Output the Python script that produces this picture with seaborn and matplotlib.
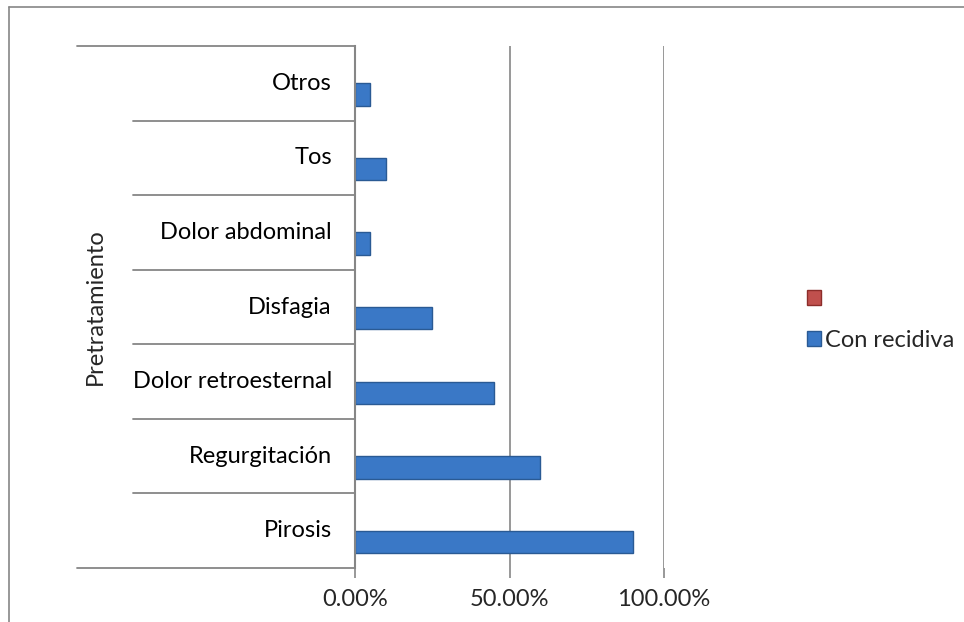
import matplotlib
matplotlib.use('Agg')
import matplotlib.pyplot as plt
from matplotlib.lines import Line2D
from matplotlib.ticker import PercentFormatter
import pandas as pd
import seaborn as sns

# categories from top to bottom, as in the reference
sintomas = ['Otros', 'Tos', 'Dolor abdominal', 'Disfagia',
            'Dolor retroesternal', 'Regurgitación', 'Pirosis']
con_recidiva = [0.05, 0.10, 0.05, 0.25, 0.45, 0.60, 0.90]
sin_nombre = [0, 0, 0, 0, 0, 0, 0]   # second, unnamed series (red in legend)
series = [' ', 'Con recidiva']
colores = ['#C0504D', '#3A78C6']
bordes = ['#8C2D2A', '#2A5A94']
x_ticks = [0, 0.5, 1.0]


def build_frame() -> pd.DataFrame:
    rows = []
    for s, v0, v1 in zip(sintomas, sin_nombre, con_recidiva):
        rows.append({'sintoma': s, 'serie': series[0], 'valor': v0})
        rows.append({'sintoma': s, 'serie': series[1], 'valor': v1})
    return pd.DataFrame(rows)


sns.set_style('white')
plt.rcParams['font.family'] = ['Lato', 'DejaVu Sans']
FS = 17

fig = plt.figure(figsize=(9.64, 6.22), dpi=100)
ax = fig.add_axes([355 / 964, 54 / 622, 309 / 964, 522 / 622])

df = build_frame()
sns.barplot(data=df, x='valor', y='sintoma', hue='serie', order=sintomas,
            hue_order=series, palette=colores, width=0.6, ax=ax,
            saturation=1, linewidth=1.0)
for cont, ec in zip(ax.containers, bordes):
    for bar in cont:
        bar.set_edgecolor(ec)
        if bar.get_width() == 0:
            bar.set_linewidth(0)

ax.set_xlim(0, 1)
ax.set_ylim(6.5, -0.5)
ax.set_xticks(x_ticks)
ax.xaxis.set_major_formatter(PercentFormatter(1.0, decimals=2))
ax.tick_params(axis='x', labelsize=FS, length=7, width=1.2, color='#868686',
               pad=8, direction='out', bottom=True)
ax.grid(axis='x', color='#868686', linewidth=1.2)
ax.set_axisbelow(True)
for name in ['top', 'right', 'bottom']:
    ax.spines[name].set_visible(False)
ax.spines['left'].set_color('#868686')
ax.spines['left'].set_linewidth(1.5)

# category labels and separators drawn in the left margin
ax.set_yticks([])
ax.set_ylabel('')
ax.set_xlabel('')
trans = ax.get_yaxis_transform()
for i, s in enumerate(sintomas):
    ax.text(-0.075, i, s, transform=trans, ha='right', va='center',
            fontsize=FS, color='black')
for k in range(len(sintomas) + 1):
    start = -0.9 if k in (0, len(sintomas)) else -0.72
    ax.add_line(Line2D([start, 0], [k - 0.5, k - 0.5], transform=trans,
                       color='#868686', linewidth=1.3, clip_on=False))
ax.text(-0.84, 3, 'Pretratamiento', transform=trans, rotation=90,
        ha='center', va='center', fontsize=FS)

# legend
handles, labels = ax.get_legend_handles_labels()
for h, ec in zip(handles, bordes):
    h.set_edgecolor(ec)
ax.legend(handles, labels, loc='center left', bbox_to_anchor=(1.395, 0.475),
          frameon=False, fontsize=FS, handlelength=0.6, handleheight=0.6,
          handletextpad=0.15, labelspacing=0.85)

# outer chart frame (top and left edges visible)
fig.add_artist(Line2D([9 / 964, 1.0], [1 - 7 / 622, 1 - 7 / 622],
                      color='#868686', linewidth=1.2))
fig.add_artist(Line2D([9 / 964, 9 / 964], [0, 1 - 7 / 622],
                      color='#868686', linewidth=1.2))

fig.savefig('out.png', dpi=100)
